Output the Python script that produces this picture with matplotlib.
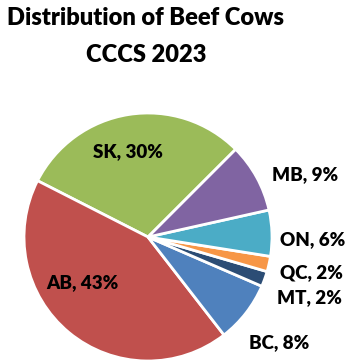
import matplotlib.pyplot as plt

provinces = ["SK", "AB", "BC", "MT", "QC", "ON", "MB"]
shares = [30, 43, 8, 2, 2, 6, 9]
colors = ["#9BBB59", "#C0504D", "#4F81BD", "#2C4D75", "#F79646", "#4BACC6", "#8064A2"]

# label positions in units of the pie radius
label_pos = [(-0.16, 0.69), (-0.53, -0.37), (1.06, -0.85), (1.30, -0.49),
             (1.32, -0.29), (1.33, -0.02), (1.27, 0.50)]

plt.rcParams["font.family"] = ["Lato", "DejaVu Sans"]

fig = plt.figure(figsize=(3.47, 3.62), dpi=100)
ax = fig.add_axes([24 / 347, 1 / 362, 248 / 347, 248 / 362])

wedges, _ = ax.pie(shares, colors=colors, startangle=45, counterclock=True,
                   radius=1, wedgeprops=dict(edgecolor="white", linewidth=2))
ax.set_xlim(-1, 1)
ax.set_ylim(-1, 1)
ax.set_aspect("equal")
ax.axis("off")

for name, val, (x, y) in zip(provinces, shares, label_pos):
    ax.text(x, y, f"{name}, {val}%", ha="center", va="center",
            fontsize=13.5, fontweight="heavy", color="black", clip_on=False)

fig.text(0.42, 0.95, "Distribution of Beef Cows", ha="center", va="center",
         fontsize=17, fontweight="heavy")
fig.text(0.42, 0.848, "CCCS 2023", ha="center", va="center",
         fontsize=17, fontweight="heavy")

fig.savefig("out.png", dpi=100)
